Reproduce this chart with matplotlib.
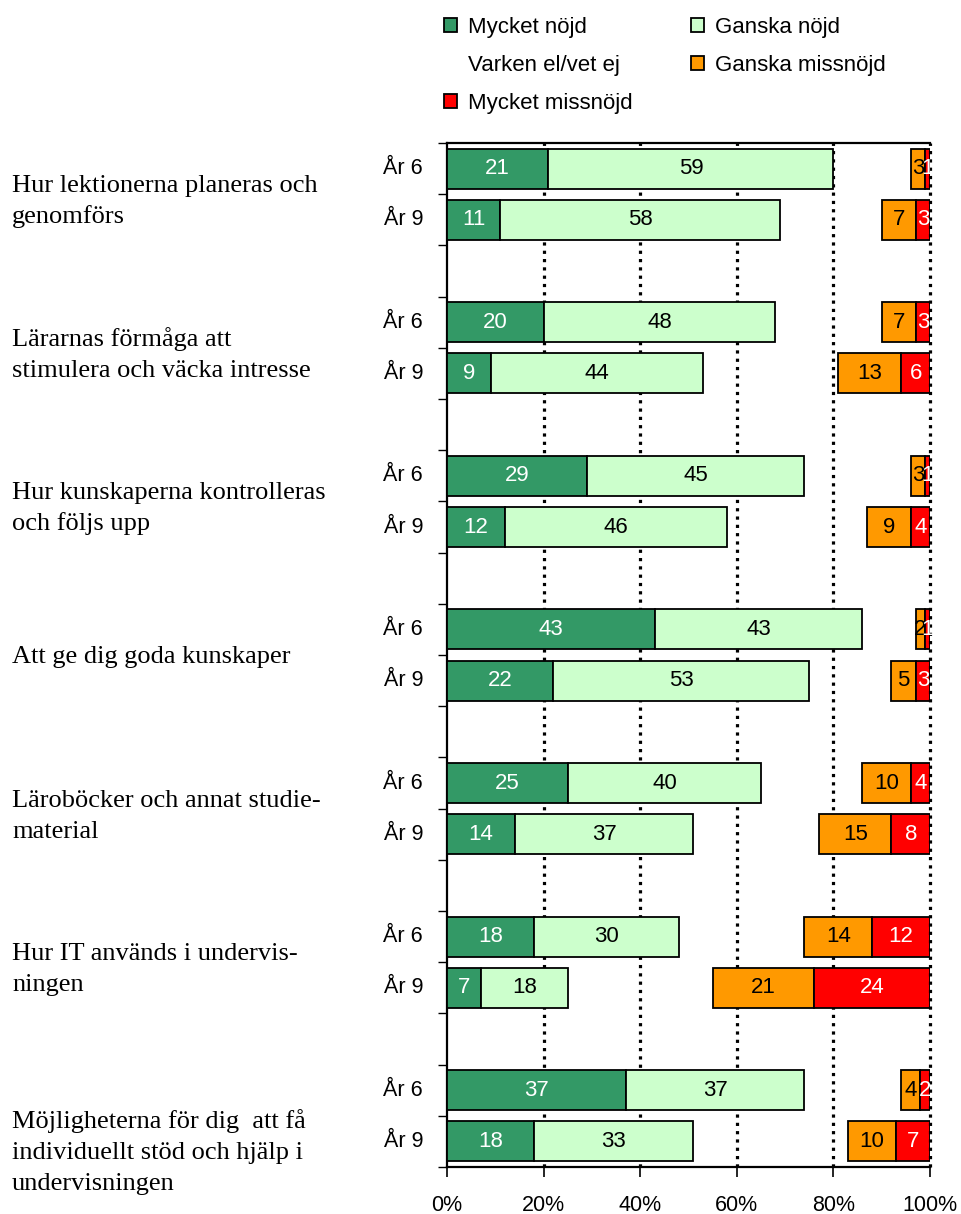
import numpy as np
import matplotlib.pyplot as plt
from matplotlib.patches import Patch

# Survey categories (one group per question, År 6 and År 9 in each)
questions = [
    "Hur lektionerna planeras och\ngenomförs",
    "Lärarnas förmåga att\nstimulera och väcka intresse",
    "Hur kunskaperna kontrolleras\noch följs upp",
    "Att ge dig goda kunskaper",
    "Läroböcker och annat studie-\nmaterial",
    "Hur IT används i undervis-\nningen",
    "Möjligheterna för dig  att få\nindividuellt stöd och hjälp i\nundervisningen",
]
years = ["År 6", "År 9"]
series = ["Mycket nöjd", "Ganska nöjd", "Varken el/vet ej", "Ganska missnöjd", "Mycket missnöjd"]

# values per question: [År 6, År 9]
mycket_nojd = [[21, 11], [20, 9], [29, 12], [43, 22], [25, 14], [18, 7], [37, 18]]
ganska_nojd = [[59, 58], [48, 44], [45, 46], [43, 53], [40, 37], [30, 18], [37, 33]]
ganska_missnojd = [[3, 7], [7, 13], [3, 9], [2, 5], [10, 15], [14, 21], [4, 10]]
mycket_missnojd = [[1, 3], [3, 6], [1, 4], [1, 3], [4, 8], [12, 24], [2, 7]]

mn = np.array(mycket_nojd, dtype=float).ravel()
gn = np.array(ganska_nojd, dtype=float).ravel()
gm = np.array(ganska_missnojd, dtype=float).ravel()
mm = np.array(mycket_missnojd, dtype=float).ravel()
varken = 100 - mn - gn - gm - mm

colors = ["#339966", "#CCFFCC", "white", "#FF9900", "#FF0000"]
text_colors = ["white", "black", None, "black", "white"]

plt.rcParams['font.family'] = ['Liberation Sans', 'DejaVu Sans']

fig = plt.figure(figsize=(9.62, 12.14), dpi=100)
ax = fig.add_axes([0.4647, 0.0387, 0.5021, 0.8435])

# bar positions: two bars per group, one empty slot between groups
pos = np.array([3 * g + k for g in range(len(questions)) for k in range(2)])
bar_h = 0.78

left = np.zeros(len(pos))
for i, vals in enumerate([mn, gn, varken, gm, mm]):
    # "Varken" is left empty (not drawn)
    if i != 2:
        ax.barh(pos, vals, left=left, height=bar_h, color=colors[i],
                edgecolor="black", linewidth=1.3, zorder=3)
        for y, l, v in zip(pos, left, vals):
            ax.text(l + v / 2, y, "%d" % v, ha="center", va="center",
                    fontsize=16, color=text_colors[i], zorder=6)
    left = left + vals

# dotted grid lines
for x in [20, 40, 60, 80, 100]:
    ax.axvline(x, color="black", lw=2.3, linestyle=(0, (1, 1.6)),
               zorder=5 if x == 100 else 1, clip_on=False)

ax.set_xlim(0, 100)
ax.set_ylim(19.5, -0.5)
ax.set_xticks([0, 20, 40, 60, 80, 100])
ax.set_xticklabels(["0%", "20%", "40%", "60%", "80%", "100%"], fontsize=15.5)
ax.set_yticks(np.arange(-0.5, 20, 1))
ax.set_yticklabels([])
ax.tick_params(axis="x", length=7, width=1.2, pad=13)
ax.tick_params(axis="y", length=6.5, width=1.0)
ax.spines["right"].set_visible(False)
for s in ["left", "top", "bottom"]:
    ax.spines[s].set_linewidth(1.6)

# År labels
for y, k in zip(pos, [0, 1] * len(questions)):
    ax.text(-0.0497, y, years[k], transform=ax.get_yaxis_transform(),
            ha="right", va="center", fontsize=15.5)

# question labels, one text per line, first baseline placed by line count
unit_px = 51.2
first_base_px = {1: 8, 2: -2, 3: 12}
line_step = 31 / unit_px
for g, q in enumerate(questions):
    lines = q.split("\n")
    y0 = 3 * g + 0.5 + first_base_px[len(lines)] / unit_px
    for j, line in enumerate(lines):
        ax.text(-0.9006, y0 + j * line_step, line, transform=ax.get_yaxis_transform(),
                ha="left", va="baseline", fontsize=19, family="Liberation Serif")

# legend, column-major order so rows read MN/GN, V/GM, MM
handles = [Patch(facecolor=c, edgecolor="black" if c != "white" else "none", linewidth=1.3)
           for c in colors]
order = [0, 2, 4, 1, 3]
fig.legend([handles[i] for i in order], [series[i] for i in order],
           ncol=2, loc="upper left", bbox_to_anchor=(0.4615, 0.986),
           frameon=False, fontsize=16, handlelength=0.59, handleheight=0.59,
           handletextpad=0.5, columnspacing=2.6, labelspacing=0.76,
           borderpad=0, borderaxespad=0)

fig.savefig("out.png", dpi=100)
